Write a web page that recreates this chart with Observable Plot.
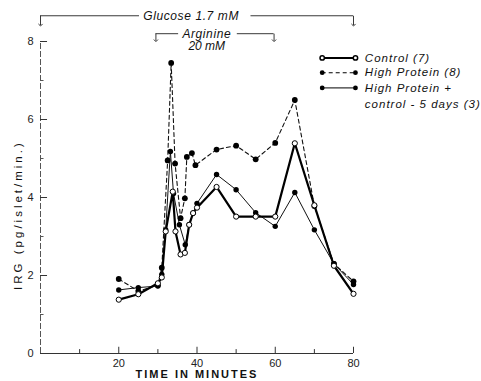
<!DOCTYPE html>
<html>
<head>
<meta charset="utf-8">
<script src="https://cdn.jsdelivr.net/npm/d3@7"></script>
<script src="https://cdn.jsdelivr.net/npm/@observablehq/plot@0.6"></script>
<style>
  body { margin: 0; background: #fff; }
  #chart svg { display: block; }
</style>
</head>
<body>
<div id="chart"></div>
<script>
// ---- data ----
const controlTime = [20, 25, 30, 31, 32, 33.8, 34.5, 35.8, 36.9, 38, 39, 40, 45, 50, 55, 60, 65, 70, 75, 80];
const controlIRG  = [1.38, 1.52, 1.8, 1.95, 3.13, 4.15, 3.13, 2.54, 2.58, 3.3, 3.6, 3.74, 4.27, 3.51, 3.51, 3.51, 5.39, 3.8, 2.25, 1.53];

const highProteinTime = [20, 25, 30, 31, 32.5, 33.4, 34.4, 35.8, 36.9, 37.4, 38.7, 39.6, 45, 50, 55, 60, 65, 70, 75, 80];
const highProteinIRG  = [1.91, 1.6, 1.75, 2.2, 4.95, 7.45, 4.87, 3.47, 3.98, 5.04, 5.14, 4.83, 5.23, 5.33, 4.98, 5.4, 6.5, 3.78, 2.3, 1.85];

const hpControlTime = [20, 25, 30, 31, 32, 33.2, 34, 35.5, 37, 38, 39, 40, 45, 50, 55, 60, 65, 70, 75, 80];
const hpControlIRG  = [1.63, 1.69, 1.73, 2.03, 3.17, 5.18, 4.1, 3.3, 2.79, 3.3, 3.6, 3.85, 4.59, 4.2, 3.61, 3.26, 4.13, 3.17, 2.3, 1.77];

const seriesNames = ["Control (7)", "High Protein (8)", "High Protein +", "control - 5 days (3)"];
const xTicks = [10, 20, 30, 40, 50, 60, 70, 80];
const xTickLabels = [20, 40, 60, 80];
const yTicks = [0, 2, 4, 6, 8];
const yMinorTicks = [1, 3, 5, 7];

// bracket annotations (minutes, IRG-level position)
const glucose = {label: "Glucose 1.7 mM", start: 0, end: 80, textAt: 38.5};
const arginine = {label1: "Arginine", label2: "20 mM", start: 29.5, end: 59.7, textAt: 42.5};

const xTitle = "TIME IN MINUTES";
const yTitle = "IRG (pg/islet/min.)";

const control = controlTime.map((t, i) => ({t, v: controlIRG[i]}));
const hp = highProteinTime.map((t, i) => ({t, v: highProteinIRG[i]}));
const hpc = hpControlTime.map((t, i) => ({t, v: hpControlIRG[i]}));

const font = "Liberation Sans, Arial, sans-serif";

// legend rows (in data coordinates, to the right of the frame)
const legX1 = 72, legX2 = 80.5, legText = 82.9;
const legRows = [7.58, 7.2, 6.81, 6.4];

const chart = Plot.plot({
  width: 481,
  height: 381,
  marginLeft: 40,
  marginRight: 128,
  marginTop: 41,
  marginBottom: 28,
  x: {domain: [0, 80], axis: null},
  y: {domain: [0, 8], axis: null},
  style: {fontFamily: font, background: "#fff", color: "#111"},
  marks: [
    // axes lines
    Plot.ruleY([0], {x1: 0, x2: 80, stroke: "#333", strokeWidth: 1}),
    Plot.ruleX([0], {y1: 0, y2: 8, stroke: "#555", strokeWidth: 1, strokeDasharray: "6,2"}),
    // x ticks (inward)
    Plot.ruleX(xTicks, {y1: 0, y2: d => (d % 20 === 0 ? 0.16 : 0.1), stroke: "#333", strokeWidth: 1}),
    Plot.text(xTickLabels, {x: d => d, y: 0, text: d => String(d), dy: 10, fontSize: 11, fill: "#222"}),
    // y ticks (inward)
    Plot.ruleY(yTicks, {x1: 0, x2: 1.8, stroke: "#333", strokeWidth: 1}),
    Plot.ruleY(yMinorTicks, {x1: 0, x2: 0.9, stroke: "#555", strokeWidth: 1}),
    Plot.text(yTicks, {x: 0, y: d => d, text: d => String(d), dx: -7, textAnchor: "end", fontSize: 11, fill: "#222"}),
    // axis titles
    Plot.text([xTitle], {x: 40, y: 0, dy: 21, fontSize: 11, fontWeight: "bold", fill: "#111", text: d => d}),
    Plot.text([yTitle], {x: 0, y: 3.55, dx: -22, rotate: -90, fontSize: 11.5, fill: "#111", text: d => d}),

    // series lines
    Plot.line(hpc, {x: "t", y: "v", stroke: "#111", strokeWidth: 1}),
    Plot.line(hp, {x: "t", y: "v", stroke: "#111", strokeWidth: 1.1, strokeDasharray: "4,3"}),
    Plot.line(control, {x: "t", y: "v", stroke: "#000", strokeWidth: 2.2}),
    Plot.dot(hpc, {x: "t", y: "v", r: 2.7, fill: "#000", stroke: "none"}),
    Plot.dot(hp, {x: "t", y: "v", r: 2.9, fill: "#000", stroke: "none"}),
    Plot.dot(control, {x: "t", y: "v", r: 2.6, fill: "#fff", stroke: "#000", strokeWidth: 1}),

    // glucose bracket
    Plot.ruleY([8.66], {x1: glucose.start, x2: 25.3, stroke: "#222", strokeWidth: 0.9}),
    Plot.ruleY([8.66], {x1: 53.8, x2: glucose.end, stroke: "#222", strokeWidth: 0.9}),
    Plot.link([glucose.start, glucose.end], {x1: d => d, x2: d => d, y1: 8.66, y2: 8.42, stroke: "#222", strokeWidth: 0.9, markerEnd: "arrow"}),
    Plot.text([glucose.label], {x: glucose.textAt, y: 8.66, text: d => d, fontSize: 12, fontStyle: "italic", fill: "#111"}),

    // arginine bracket
    Plot.ruleY([8.2], {x1: arginine.start, x2: 35.3, stroke: "#222", strokeWidth: 0.9}),
    Plot.ruleY([8.2], {x1: 50.3, x2: arginine.end, stroke: "#222", strokeWidth: 0.9}),
    Plot.link([arginine.start, arginine.end], {x1: d => d, x2: d => d, y1: 8.2, y2: 8.02, stroke: "#222", strokeWidth: 0.9, markerEnd: "arrow"}),
    Plot.text([arginine.label1], {x: arginine.textAt, y: 8.2, text: d => d, fontSize: 12, fontStyle: "italic", fill: "#111"}),
    Plot.text([arginine.label2], {x: arginine.textAt, y: 7.88, text: d => d, fontSize: 12, fontStyle: "italic", fill: "#111"}),

    // legend
    Plot.ruleY([legRows[0]], {x1: legX1, x2: legX2, stroke: "#000", strokeWidth: 2}),
    Plot.dot([legX1, legX2], {x: d => d, y: legRows[0], r: 2.2, fill: "#fff", stroke: "#000"}),
    Plot.ruleY([legRows[1]], {x1: legX1, x2: legX2, stroke: "#000", strokeWidth: 1.1, strokeDasharray: "4,3"}),
    Plot.dot([legX1, legX2], {x: d => d, y: legRows[1], r: 2.4, fill: "#000"}),
    Plot.ruleY([legRows[2]], {x1: legX1, x2: legX2, stroke: "#000", strokeWidth: 1}),
    Plot.dot([legX1, legX2], {x: d => d, y: legRows[2], r: 2.4, fill: "#000"}),
    Plot.text(seriesNames, {x: legText, y: (d, i) => legRows[i], text: d => d, textAnchor: "start", fontSize: 11.5, fontStyle: "italic", fill: "#111"})
  ]
});

// letter spacing for the typewriter-like lettering of the original
const spacing = new Map([[xTitle, "2px"], [yTitle, "3px"], [glucose.label, "0.6px"], [arginine.label1, "0.6px"]]);
seriesNames.forEach(n => spacing.set(n, "1px"));
d3.select(chart).selectAll("text").each(function() {
  const s = spacing.get(this.textContent);
  if (s) this.setAttribute("letter-spacing", s);
});
document.getElementById("chart").append(chart);
</script>
</body>
</html>
